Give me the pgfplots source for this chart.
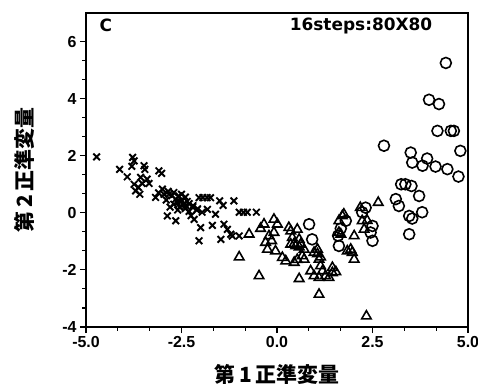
\documentclass[border=0pt]{standalone}
\usepackage{pgfplots}
\pgfplotsset{compat=1.18}
\usepackage{fontspec}
\setmainfont{Liberation Sans}
\newfontfamily\dejavu{DejaVu Sans}
\newfontfamily\cjk{Noto Sans CJK JP}
\begin{document}
\begin{tikzpicture}
\path[use as bounding box] (-86bp,-60bp) rectangle (392bp,327bp);
\begin{axis}[
  scale only axis, width=382bp, height=314bp,
  xmin=-5, xmax=5, ymin=-4, ymax=7,
  xtick={-5,-2.5,0,2.5,5}, ytick={-4,-2,0,2,4,6},
  xticklabels={-5.0,-2.5,0.0,2.5,5.0},
  minor tick num=2,
  xtick pos=left, ytick pos=left,
  tick align=outside,
  major tick length=6bp, minor tick length=3.5bp,
  every tick/.style={black, line width=1.1pt},
  axis line style={line width=1.3pt},
  tick label style={font=\fontsize{16}{16}\selectfont\bfseries},
  /pgf/number format/assume math mode=true,
  xlabel={\cjk\bfseries\fontsize{21}{21}\selectfont 第\,1\,正準変量},
  ylabel={\cjk\bfseries\fontsize{21}{21}\selectfont 第\,2\,正準変量},
  xlabel style={at={(axis description cs:0.5,-0.152)}, anchor=center},
  ylabel style={at={(axis description cs:-0.162,0.5)}, anchor=center},
  clip=false,
]
% crosses
\addplot[only marks, mark=x, mark size=4.7pt, line width=1.9pt] coordinates {
(-4.72,1.96) (-3.78,1.94) (-3.74,1.82) (-3.80,1.63) (-3.48,1.65) (-3.46,1.52)
(-4.12,1.52) (-3.92,1.26) (-3.09,1.47) (-3.02,1.38) (-3.57,1.24) (-3.40,1.18)
(-3.74,1.00) (-3.63,0.89) (-3.53,1.03) (-3.70,0.77) (-3.59,0.65) (-3.35,1.03)
(-3.18,0.54) (-3.00,0.83) (-2.96,0.65) (-2.83,0.65) (-2.70,0.71) (-2.57,0.59)
(-2.65,0.48) (-2.61,0.36) (-2.87,-0.11) (-2.65,-0.28)
(-2.04,0.53) (-1.94,0.53) (-1.83,0.53) (-1.74,0.53) (-1.50,0.42) (-1.41,0.26)
(-1.13,0.42) (-1.82,0.12) (-1.96,0.02) (-1.61,-0.05) (-2.17,-0.23) (-2.00,-0.52)
(-1.69,-0.44) (-1.39,-0.40) (-1.30,-0.58) (-1.21,-0.75) (-1.17,-0.81) (-0.99,-0.81)
(-2.04,-0.98) (-1.47,-0.93) (-0.99,0.02) (-0.88,0.02) (-0.78,0.02) (-0.54,0.02)
(-2.85,0.75) (-2.75,0.60) (-2.50,0.45) (-2.45,0.30) (-2.40,0.15) (-2.55,0.20)
(-2.30,0.05) (-2.25,-0.10) (-2.60,0.10) (-2.35,0.40) (-2.20,0.25) (-2.10,0.10)
(-2.70,0.30) (-2.50,0.65) (-2.40,0.55) (-2.90,0.45) (-3.10,0.70) (-2.80,0.20)
(-2.52,0.38) (-2.39,0.26) (-2.30,0.32) (-2.21,0.20) (-2.08,0.14)
};
% triangles
\addplot[only marks, mark=triangle, mark size=5.5pt, line width=1.6pt] coordinates {
(-0.73,-0.75) (-0.99,-1.55) (-0.34,-0.40) (-0.43,-0.55) (-0.08,-0.23) (0.01,-0.40)
(-0.21,-0.81) (-0.14,-0.98) (-0.08,-0.69) (-0.30,-1.04) (-0.25,-1.28) (-0.04,-1.34)
(0.14,-1.57) (0.23,-1.69) (0.31,-0.52) (0.36,-0.64) (0.53,-0.58) (0.40,-0.87)
(0.36,-1.10) (0.49,-1.16) (0.58,-0.93) (0.62,-1.10) (0.71,-1.28) (0.66,-1.51)
(0.45,-1.74) (0.53,-1.64) (0.71,-1.63) (-0.47,-2.21) (0.58,-2.31) (0.88,-2.04)
(0.97,-2.21) (1.10,-2.27) (1.19,-2.04) (1.27,-2.21) (1.36,-2.27) (1.45,-2.10)
(1.54,-2.07) (1.10,-2.86) (0.97,-1.39) (1.10,-1.63) (1.14,-1.86) (1.06,-1.28)
(1.62,-0.28) (1.71,-0.11) (1.62,-0.69) (1.84,-1.34) (2.65,0.36) (2.18,0.18)
(2.23,-0.28) (2.28,-0.58) (2.02,-0.81) (1.75,-0.05) (1.67,-0.75) (1.93,-1.28)
(1.97,-1.39) (2.02,-1.63) (1.45,-1.92) (2.34,-3.62) (0.45,-1.08) (0.58,-1.20)
(1.06,-1.44) (1.14,-1.55) (2.36,-0.27)
};
% circles
\addplot[only marks, mark=o, mark size=5.5pt, line width=1.6pt] coordinates {
(0.84,-0.40) (0.92,-0.93) (1.62,-1.16) (1.67,-0.55) (1.60,-0.80) (2.32,0.18)
(2.23,0.02) (2.50,-0.46) (2.45,-0.69) (2.50,-0.98) (1.80,-0.28)
(3.25,1.00) (3.36,1.00) (3.52,0.94) (3.11,0.48) (3.19,0.24) (3.46,-0.11) (3.46,-0.75)
(3.54,1.76) (3.81,1.65) (4.15,1.62) (4.46,1.53) (4.75,1.27) (3.72,0.59)
(3.80,0.02) (3.54,-0.20) (4.42,5.25) (3.98,3.96) (4.24,3.81) (4.20,2.87)
(4.55,2.87) (4.63,2.87) (2.80,2.35) (4.80,2.17) (3.50,2.11) (3.93,1.90)
};
\node[font=\dejavu\fontsize{17}{17}\selectfont\bfseries] at (axis cs:-4.48,6.58) {C};
\node[font=\dejavu\fontsize{17}{17}\selectfont\bfseries] at (axis cs:2.20,6.55) {16steps:80X80};
\end{axis}
\end{tikzpicture}
\end{document}
